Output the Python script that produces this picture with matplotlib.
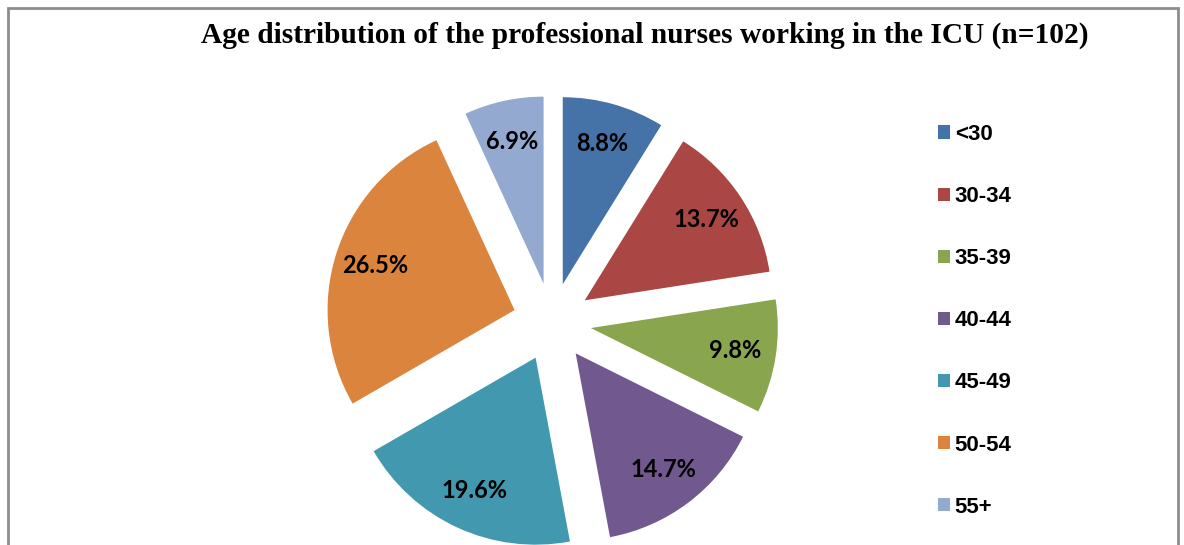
import matplotlib.pyplot as plt
from matplotlib.patches import Patch, Rectangle

groups = ['<30', '30-34', '35-39', '40-44', '45-49', '50-54', '55+']
counts = [9, 14, 10, 15, 20, 27, 7]   # n = 102
colors = ['#4572A7', '#AA4643', '#89A54E', '#71588F', '#4198AF', '#DB843D', '#93A9CF']

W, H = 1184, 545
fig = plt.figure(figsize=(W / 100, H / 100), dpi=100)

# outer chart frame (bottom edge runs off the image)
fig.patches.append(Rectangle((8 / W, -0.05), 1170 / W, 1.05 - 8 / H,
                             transform=fig.transFigure, fill=False,
                             edgecolor='#8c8c8c', linewidth=2))

# pie axes: centre at (552, 322) px from top-left, radius 187 px
R = 187
cx, cy = 552, H - 322
half = 1.3 * R
ax = fig.add_axes([(cx - half) / W, (cy - half) / H, 2 * half / W, 2 * half / H])
wedges, _, autotexts = ax.pie(counts, colors=colors, startangle=90, counterclock=False,
                              explode=[0.21] * len(counts), autopct='%1.1f%%',
                              pctdistance=0.78, radius=1,
                              wedgeprops=dict(linewidth=0))
for t in autotexts:
    t.set_fontfamily('Lato')
    t.set_fontweight('bold')
    t.set_fontsize(17)
    t.set_color('black')
ax.set_xlim(-1.3, 1.3)
ax.set_ylim(-1.3, 1.3)
ax.axis('off')

fig.text(645 / W, 1 - 35 / H,
         'Age distribution of the professional nurses working in the ICU (n=102)',
         ha='center', va='center', fontsize=21.2, fontweight='bold',
         family='Liberation Serif')

handles = [Patch(facecolor=c, edgecolor='none') for c in colors]
fig.legend(handles, groups, loc='upper left', bbox_to_anchor=(938 / W, 1 - 124 / H),
           frameon=False, borderpad=0, borderaxespad=0, handlelength=0.55,
           handleheight=0.55, handletextpad=0.2, labelspacing=1.85,
           prop={'family': 'Liberation Sans', 'weight': 'bold', 'size': 16})

fig.savefig('out.png', dpi=100)
